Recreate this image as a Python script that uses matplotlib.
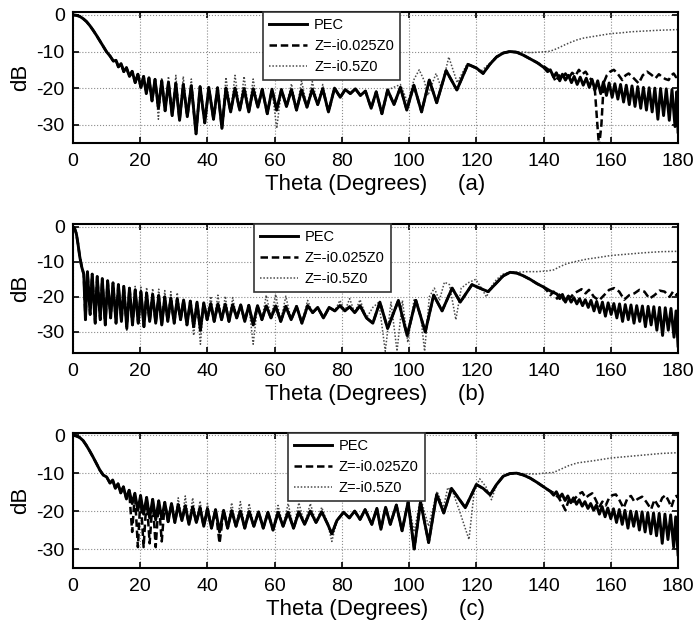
import matplotlib
matplotlib.use("Agg")
import matplotlib.pyplot as plt

plt.rcParams.update({
    "font.family": ["Liberation Sans", "DejaVu Sans"],
    "font.size": 14,
    "axes.unicode_minus": False,
    "axes.linewidth": 1.5,
    "xtick.direction": "in", "ytick.direction": "in",
    "xtick.top": True, "ytick.right": True,
    "xtick.major.size": 4, "ytick.major.size": 4,
    "xtick.major.width": 1.2, "ytick.major.width": 1.2,
    "xtick.major.pad": 7, "ytick.major.pad": 6,
    "figure.facecolor": "white",
})

LABELS = ["PEC", "Z=-i0.025Z0", "Z=-i0.5Z0"]
PANEL_TAGS = ["(a)", "(b)", "(c)"]
XTICKS = list(range(0, 181, 20))
YTICKS = [-30, -20, -10, 0]

# ---------------------------------------------------------------- panel (a)
PEC_A = [
    (0, 0), (1, -0.1), (2, -0.4), (3, -1.0), (4, -1.8), (5, -2.9), (6, -4.2), (7, -5.6),
    (8, -7.1), (9, -8.6), (10, -10.1), (11, -11.2), (12, -12.6),
    (12.8, -12.4), (13.5, -14.2), (14.3, -13.3), (15.1, -15.5), (15.9, -14.4), (16.8, -16.8),
    (17.6, -15.4), (18.5, -18.5), (19.3, -16.2), (20.2, -19.8), (21.0, -16.8), (21.8, -21.5),
    (22.6, -17.2), (23.5, -23.5), (24.4, -17.6), (25.4, -25.5), (26.4, -18.0), (27.4, -26.2),
    (28.4, -18.4), (29.5, -27.5), (30.6, -18.7), (31.7, -28.8), (32.8, -19.0), (34.0, -27.8),
    (35.2, -19.3), (36.6, -32.5), (37.8, -19.6), (39.2, -29.5), (40.4, -19.8), (41.8, -28.5),
    (43.0, -19.9), (44.3, -31.0), (45.5, -20.0), (46.9, -26.5), (48.2, -20.0), (49.6, -26.0),
    (50.9, -20.1), (52.3, -26.5), (53.6, -20.2), (55.0, -25.2), (56.3, -20.3), (57.8, -27.0),
    (59.2, -20.3), (60.6, -26.0), (62.0, -20.4), (63.5, -25.0), (65.0, -20.4), (66.5, -26.0),
    (68.0, -20.5), (69.6, -25.2), (71.2, -20.3), (72.8, -24.5), (74.3, -20.2), (76.0, -26.5),
    (77.8, -20.0), (79.5, -22.5), (81.0, -20.4), (82.5, -21.5), (84.0, -20.2), (85.5, -22.0),
    (87.0, -20.8), (88.7, -25.5), (90.2, -21.0), (91.9, -27.0), (93.6, -20.5), (95.5, -24.5),
    (97.4, -19.8), (99.3, -26.0), (101.4, -19.2), (103.7, -26.5), (106.0, -17.8), (108.2, -24.0),
    (111.0, -15.2), (114.2, -20.5), (117.5, -13.5), (120.0, -14.5), (122.0, -16.0), (124, -13.5),
    (126, -11.5), (128, -10.4), (130, -10.0), (132, -10.2), (134, -11.0), (136, -12.0),
    (138, -13.0), (140, -14.3),
    (141.2, -15.5), (142.0, -15.0), (143.0, -17.0), (143.8, -15.8), (144.8, -18.0), (145.6, -16.2),
    (146.5, -17.8), (147.4, -16.5), (148.3, -18.5), (149.1, -16.8), (150.0, -19.0), (150.9, -17.0),
    (151.8, -19.2), (152.7, -17.3), (153.6, -19.8), (154.4, -17.6), (155.3, -20.5), (156.1, -18.0),
    (157.0, -21.5), (157.8, -18.3), (158.7, -22.0), (159.5, -18.6), (160.4, -22.5), (161.2, -18.8),
    (162.1, -23.0), (162.9, -19.0), (163.8, -23.8), (164.6, -19.2), (165.5, -24.5), (166.3, -19.4),
    (167.2, -25.0), (168.0, -19.6), (168.9, -25.5), (169.7, -19.8), (170.6, -26.0), (171.4, -19.9),
    (172.3, -26.5), (173.1, -20.0), (174.0, -28.5), (174.8, -20.1), (175.7, -27.5), (176.5, -20.2),
    (177.4, -28.8), (178.2, -20.4), (179.1, -30.5), (179.6, -21.0), (180, -32.0),
]
Z1_A_CHANGES = []
Z1_A_TAIL = [
    (140, -14.0), (141.5, -15.0), (142.5, -16.0), (143.6, -18.2), (144.6, -16.5), (145.5, -17.5),
    (146.5, -16.0), (147.5, -17.2), (148.5, -15.8), (149.5, -16.6), (150.5, -15.0), (151.5, -16.2),
    (152.5, -15.5), (153.5, -17.0), (154.5, -18.0), (155.3, -21.0), (156.0, -30.0), (156.5, -36.0),
    (157.2, -30.0), (157.9, -18.5), (158.8, -16.5), (159.8, -15.5), (160.9, -15.0), (162.0, -16.0),
    (163.4, -17.8), (164.4, -16.5), (165.3, -16.0), (166.5, -17.0), (168.3, -18.7), (169.5, -16.5),
    (170.8, -15.5), (172.0, -16.3), (173.3, -17.3), (174.3, -16.2), (175.2, -16.9), (176.2, -17.5),
    (177.2, -17.8), (178.0, -16.5), (178.7, -16.0), (179.4, -17.0), (180, -16.5),
]
Z2_A_CHANGES = [
    (25.4, -28.5), (26.4, -17.2), (28.4, -16.8), (30.6, -16.5), (32.8, -16.8), (35.2, -17.5),
    (45.5, -17.0), (48.2, -16.5), (50.9, -16.8), (53.6, -17.5), (60.6, -31.0),
    (65.0, -18.8), (68.0, -18.0), (71.2, -18.2), (74.3, -19.0),
]
Z2_A_TAIL = [
    (97.4, -19.0), (99.6, -24.0), (101.5, -17.5), (103.0, -15.0), (104.5, -18.0), (105.6, -22.0),
    (108.0, -16.0), (109.6, -20.0), (111.8, -11.5), (114.3, -18.5), (117.3, -13.3), (121.2, -15.5),
    (124, -13.2), (126, -11.3), (128, -10.3), (130, -9.9), (133, -10.1), (136, -10.3), (140, -10.1),
    (142, -9.9), (144, -9.2), (146, -8.3), (148, -7.5), (150, -6.8), (152, -6.3), (154, -6.0),
    (156, -5.7), (158, -5.4), (160, -5.1), (163, -4.9), (166, -4.6), (170, -4.4), (174, -4.2),
    (177, -4.1), (180, -4.0),
]

# ---------------------------------------------------------------- panel (b)
PEC_B = [
    (0, 0), (0.5, -0.5), (1, -2.0), (1.5, -5.0), (2, -8.5), (2.6, -11.5), (3.2, -13.5),
    (3.7, -26.5), (4.3, -12.8), (5.1, -25.0), (5.7, -13.5), (6.6, -27.5), (7.2, -14.2),
    (8.1, -26.5), (8.7, -14.8), (9.6, -28.0), (10.3, -15.4), (11.2, -26.0), (11.9, -16.0),
    (12.8, -27.5), (13.5, -16.5), (14.4, -27.0), (15.1, -17.0), (16.0, -29.0), (16.8, -17.5),
    (17.7, -28.0), (18.5, -18.0), (19.4, -27.5), (20.2, -18.5), (21.1, -28.5), (21.9, -18.9),
    (22.8, -27.0), (23.7, -19.3), (24.6, -27.5), (25.5, -19.6), (26.4, -28.0), (27.3, -20.0),
    (28.2, -27.0), (29.1, -20.3), (30.1, -27.5), (31.0, -20.6), (32.0, -26.5), (32.9, -20.9),
    (33.9, -28.0), (34.9, -21.2), (35.9, -28.5), (36.9, -21.5), (37.9, -29.5), (38.9, -21.7),
    (39.9, -26.5), (41.0, -21.9), (42.0, -27.0), (43.1, -22.0), (44.2, -26.5), (45.3, -22.1),
    (46.4, -27.0), (47.5, -22.2), (48.7, -26.0), (49.9, -22.3), (51.1, -27.0), (52.3, -22.4),
    (53.6, -28.0), (54.9, -22.5), (56.2, -26.5), (57.5, -22.6), (58.9, -26.0), (60.3, -22.6),
    (61.8, -27.0), (63.3, -22.7), (64.9, -26.5), (66.5, -22.7), (68.1, -27.5), (69.8, -22.5),
    (71.3, -24.5), (72.8, -23.0), (74.5, -26.0), (76.2, -23.0), (77.9, -24.0), (79.4, -22.5),
    (80.9, -24.0), (82.3, -22.8), (83.8, -24.5), (85.4, -22.5), (87.3, -26.0), (89.2, -27.5),
    (91.3, -21.5), (93.6, -29.0), (96.8, -21.0), (99.4, -31.0), (102.0, -21.0), (104.8, -30.0),
    (107.3, -19.5), (109.8, -24.0), (112.8, -17.5), (115.2, -21.5), (118.7, -16.5), (121.0, -17.5),
    (123.5, -18.5), (126, -16.0), (128, -14.0), (130, -13.0), (132, -13.2), (134, -14.0),
    (136, -15.0), (138, -16.2), (140, -17.2), (142, -18.3), (144, -19.2),
    (144.8, -20.5), (145.6, -19.3), (146.5, -21.5), (147.3, -19.8), (148.2, -21.5), (149.0, -20.2),
    (149.9, -22.0), (150.7, -20.5), (151.6, -22.5), (152.4, -20.8), (153.3, -23.0), (154.1, -21.0),
    (155.0, -24.0), (155.8, -21.3), (156.7, -24.5), (157.5, -21.5), (158.4, -25.5), (159.2, -21.7),
    (160.1, -25.0), (160.9, -21.9), (161.8, -26.0), (162.6, -22.0), (163.5, -27.0), (164.3, -22.2),
    (165.2, -26.5), (166.0, -22.3), (166.9, -27.5), (167.7, -22.5), (168.6, -27.0), (169.4, -22.6),
    (170.3, -28.5), (171.1, -22.7), (172.0, -28.0), (172.8, -22.8), (173.7, -29.5), (174.5, -23.0),
    (175.4, -31.0), (176.2, -23.1), (177.1, -29.5), (177.9, -23.3), (178.8, -31.5), (179.4, -24.0),
    (180, -34.0),
]
Z1_B_CHANGES = [(16.0, -28.5)]
Z1_B_TAIL = [
    (140, -17.2), (141, -18.2), (142, -19.5), (143, -18.5), (144, -20.5), (145, -19.0),
    (146, -21.0), (147, -19.5), (148, -20.2), (149, -19.0), (150, -18.5), (151.3, -17.8),
    (152.5, -19.0), (153.5, -18.0), (155, -20.0), (156.5, -21.0), (158, -19.5), (159.5, -18.0),
    (161, -17.5), (162.5, -18.5), (164, -20.8), (165.5, -19.5), (167, -19.0), (168.5, -18.0),
    (170, -18.5), (171.5, -20.5), (173, -19.5), (174.5, -18.2), (176, -18.5), (177.5, -20.0),
    (178.5, -18.5), (179.5, -19.5), (180, -19.0),
]
Z2_B_CHANGES = [
    (16.0, -29.5), (18.5, -17.0), (20.2, -17.2), (21.9, -17.3), (23.7, -17.6), (25.5, -17.8),
    (27.3, -18.2), (29.1, -18.5), (31.0, -18.8), (35.9, -31.0), (37.9, -33.5), (41.0, -19.8),
    (43.1, -19.5), (45.3, -19.8), (47.5, -20.2), (53.6, -33.5), (57.5, -19.5), (60.3, -19.3),
    (63.3, -19.8), (69.8, -21.0), (79.4, -21.0), (82.3, -20.5), (85.4, -20.8),
]
Z2_B_TAIL = [
    (89.2, -23.0), (91.0, -21.5), (92.9, -35.5), (94.6, -21.5), (96.4, -35.5), (98.0, -21.0),
    (99.6, -33.0), (101.5, -20.5), (103.4, -25.0), (104.6, -35.5), (106.0, -20.0), (107.5, -17.5),
    (109.0, -21.0), (110.5, -15.8), (112.0, -16.5), (113.9, -26.5), (115.5, -17.5), (117.5, -16.0),
    (119.8, -15.0), (121.5, -17.5), (123, -20.0), (124.5, -17.0), (126, -15.0), (128, -13.5),
    (130, -13.0), (132, -13.0), (135, -12.8), (138, -12.8), (141, -12.6), (143, -12.3),
    (145, -11.3), (147, -10.5), (150, -9.8), (153, -9.2), (156, -8.8), (160, -8.2), (165, -7.8),
    (170, -7.4), (175, -7.1), (180, -7.0),
]

# ---------------------------------------------------------------- panel (c)
PEC_C = [
    (0, 0), (1, -0.2), (2, -0.6), (3, -1.4), (4, -2.7), (5, -4.2), (6, -5.8), (7, -7.5),
    (8, -9.2), (9, -10.5), (10, -11.0), (11, -12.6), (11.8, -11.8), (12.6, -14.0), (13.4, -12.8),
    (14.2, -15.2), (15.0, -13.6), (15.9, -16.8), (16.7, -14.5), (17.6, -18.0), (18.4, -15.3),
    (19.3, -19.8), (20.1, -15.9), (21.0, -20.8), (21.9, -16.4), (22.8, -21.8), (23.7, -16.9),
    (24.6, -22.3), (25.5, -17.3), (26.4, -22.0), (27.3, -17.7), (28.3, -22.8), (29.3, -18.0),
    (30.3, -23.0), (31.3, -18.3), (32.4, -22.5), (33.4, -18.6), (34.5, -23.5), (35.6, -18.9),
    (36.7, -23.0), (37.8, -19.1), (38.9, -24.0), (40.0, -19.4), (41.2, -24.5), (42.4, -19.6),
    (43.6, -25.5), (44.8, -19.8), (46.0, -24.5), (47.2, -19.9), (48.5, -24.0), (49.8, -20.0),
    (51.1, -24.5), (52.4, -20.1), (53.8, -24.0), (55.2, -20.2), (56.6, -24.5), (58.0, -20.3),
    (59.5, -25.0), (61.0, -20.3), (62.5, -24.0), (64.0, -20.3), (65.6, -24.5), (67.2, -20.2),
    (68.9, -23.5), (70.6, -20.0), (72.3, -23.0), (74.0, -20.2), (75.8, -23.5), (77.0, -26.0),
    (78.5, -22.5), (80.5, -20.3), (82.2, -21.8), (83.8, -20.0), (85.4, -22.2), (86.9, -19.6),
    (88.9, -23.5), (90.4, -19.3), (91.6, -24.8), (93.0, -19.0), (94.4, -23.5), (96.2, -18.4),
    (97.9, -25.2), (99.7, -17.6), (101.5, -30.0), (103.4, -17.6), (105.8, -28.3), (108.2, -15.6),
    (110.3, -20.5), (112.6, -14.0), (116.7, -19.1), (120.0, -13.0), (122, -14.0), (124.1, -15.7),
    (126, -13.0), (128, -10.8), (130, -10.1), (132, -10.0), (134, -10.5), (136, -11.3),
    (138, -12.4), (140, -13.6), (142, -14.8),
    (143.0, -15.8), (143.8, -14.9), (144.7, -16.5), (145.5, -15.5), (146.4, -17.2), (147.2, -16.0),
    (148.1, -17.8), (148.9, -16.5), (149.8, -18.2), (150.6, -17.0), (151.5, -18.7), (152.3, -17.5),
    (153.2, -19.3), (154.0, -18.0), (154.9, -19.8), (155.7, -18.4), (156.6, -20.8), (157.4, -18.8),
    (158.3, -21.5), (159.1, -19.2), (160.0, -22.0), (160.8, -19.4), (161.7, -23.0), (162.5, -19.6),
    (163.4, -23.5), (164.2, -19.8), (165.1, -24.5), (165.9, -20.0), (166.8, -24.0), (167.6, -20.1),
    (168.5, -25.0), (169.3, -20.2), (170.2, -25.5), (171.0, -20.4), (171.9, -26.0), (172.7, -20.5),
    (173.6, -26.5), (174.4, -20.6), (175.3, -28.5), (176.1, -20.8), (177.0, -27.5), (177.8, -21.0),
    (178.7, -29.5), (179.3, -21.5), (180, -31.5),
]
Z1_C_CHANGES = [
    (17.6, -25.5), (19.3, -29.5), (21.0, -29.5), (22.8, -28.5), (24.6, -29.5), (26.4, -28.0),
    (43.6, -28.5),
]
Z1_C_TAIL = [
    (140, -13.6), (141.5, -14.5), (143, -15.2), (144.5, -16.5), (145.5, -18.0), (146.5, -19.8),
    (147.5, -17.0), (148.5, -17.8), (149.5, -16.5), (150.5, -15.5), (151.5, -15.0), (152.5, -16.5),
    (153.5, -15.8), (154.5, -15.3), (155.5, -17.0), (156.5, -19.0), (157.5, -17.5), (158.5, -18.5),
    (159.5, -16.5), (160.5, -15.8), (161.5, -15.6), (162.5, -17.0), (163.8, -19.2), (165.0, -16.5),
    (166.0, -16.0), (167.0, -17.5), (168.0, -16.8), (169.3, -16.2), (170.5, -17.5), (172.0, -19.5),
    (173.0, -17.0), (174.2, -18.8), (175.3, -16.5), (176.3, -15.8), (177.3, -17.5), (178.0, -19.0),
    (178.8, -16.8), (179.5, -16.0), (180, -16.5),
]
Z2_C_CHANGES = [
    (31.3, -16.5), (33.4, -16.0), (35.6, -16.5), (37.8, -17.3), (40.0, -18.0), (47.2, -17.8),
    (49.8, -17.5), (52.4, -18.0), (61.0, -18.5), (64.0, -18.0), (67.2, -17.8), (70.6, -18.0),
    (74.0, -19.0), (77.0, -28.0),
]
Z2_C_TAIL = [
    (101.5, -25.5), (103.4, -16.5), (105.8, -24.0), (108.3, -14.8), (110.2, -19.0), (111.5, -13.8),
    (113.0, -15.0), (115.0, -20.0), (117.8, -27.5), (119.4, -14.5), (121.0, -11.5), (122.8, -13.5),
    (124.5, -17.0), (126, -13.0), (128, -10.8), (130, -10.1), (132, -10.0), (135, -10.2),
    (138, -10.2), (140, -10.0), (143, -9.8), (145, -9.0), (147.5, -8.0), (150, -7.3), (155, -6.7),
    (160, -6.0), (165, -5.6), (170, -5.2), (175, -4.8), (180, -4.6),
]

# the impedance curves lie on the PEC trace up to where they split off
SPLIT_Z1 = [138, 138, 138]
SPLIT_Z2 = [95, 88, 100]

# ---------------------------------------------------------------- layout
AX_RECTS = [
    [0.1046, 0.7737, 0.8668, 0.2073],
    [0.1046, 0.4415, 0.8668, 0.2041],
    [0.1046, 0.1013, 0.8668, 0.2136],
]
YLIMS = [(-35, 0.8), (-36, 0.8), (-35, 0.6)]
LEG_X = [0.314, 0.299, 0.355]

C_GRID = "#8c8c8c"
C_DOT = "#4a4a4a"


def combine(base, upto, changes, tail):
    pts = {t: v for t, v in base if t <= upto}
    pts.update(dict(changes))
    return sorted(pts.items()) + tail


def xy(pts):
    return [p[0] for p in pts], [p[1] for p in pts]


fig = plt.figure(figsize=(6.98, 6.32), dpi=100)

series = [
    (PEC_A, Z1_A_CHANGES, Z1_A_TAIL, Z2_A_CHANGES, Z2_A_TAIL),
    (PEC_B, Z1_B_CHANGES, Z1_B_TAIL, Z2_B_CHANGES, Z2_B_TAIL),
    (PEC_C, Z1_C_CHANGES, Z1_C_TAIL, Z2_C_CHANGES, Z2_C_TAIL),
]

for i, (pec, z1c, z1t, z2c, z2t) in enumerate(series):
    ax = fig.add_axes(AX_RECTS[i])
    z1 = combine(pec, SPLIT_Z1[i], z1c, z1t)
    z2 = combine(pec, SPLIT_Z2[i], z2c, z2t)

    l3, = ax.plot(*xy(z2), color=C_DOT, lw=1.1, ls=(0, (1, 1.2)), zorder=2)
    l2, = ax.plot(*xy(z1), color="black", lw=1.8, ls=(0, (3.0, 1.5)), zorder=3)
    l1, = ax.plot(*xy(pec), color="black", lw=2.1, zorder=4, solid_joinstyle="round")

    ax.set_xlim(0, 180)
    ax.set_ylim(*YLIMS[i])
    ax.set_xticks(XTICKS)
    ax.set_yticks(YTICKS)
    ax.grid(True, color=C_GRID, ls=":", lw=0.8)
    ax.set_axisbelow(True)
    ax.set_ylabel("dB", fontsize=16, labelpad=4)
    ax.set_xlabel("Theta (Degrees)     " + PANEL_TAGS[i], fontsize=16, labelpad=3)

    leg = ax.legend([l1, l2, l3], LABELS, loc="upper left", bbox_to_anchor=(LEG_X[i], 1.0),
                    borderaxespad=0, fontsize=10.5, handlelength=2.6, handletextpad=0.5,
                    labelspacing=0.5, borderpad=0.4, fancybox=False, framealpha=1,
                    edgecolor="#333333")
    leg.get_frame().set_linewidth(1.2)
    leg.set_zorder(10)

fig.savefig("out.png", dpi=100)
